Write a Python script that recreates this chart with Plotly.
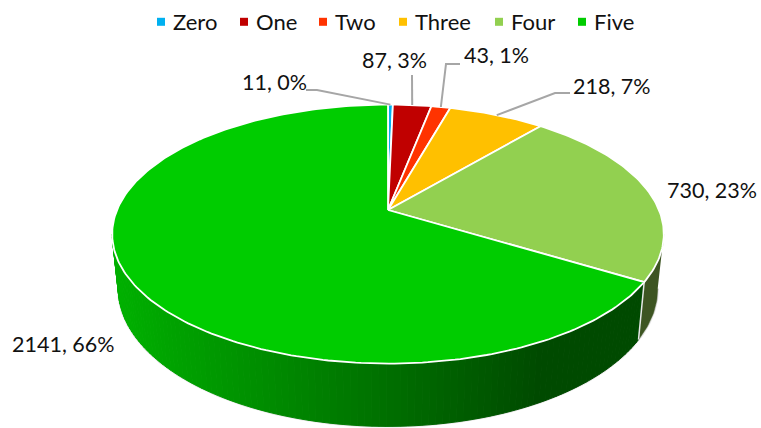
import math
import plotly.graph_objects as go

categories = ["Zero", "One", "Two", "Three", "Four", "Five"]
values = [11, 87, 43, 218, 730, 2141]
percent_labels = ["0%", "3%", "1%", "7%", "23%", "66%"]
colors = ["#00B0F0", "#C00000", "#FF3300", "#FFC000", "#92D050", "#00CC00"]

W, H = 761, 428
CX, AY = 388, 210
A_TOP, B_TOP, P = 271, 125, 0.186
A_LOW, B_LOW, CY_LOW = 265, 133, 263
FONT = "Lato, Carlito, 'Open Sans', sans-serif"

label_pos = [(274, 82), (394, 60), (496, 55), (612, 86), (712, 190), (63, 344)]
leader_elbows = [[(317, 90), (306, 90)], [(412, 75)], [(446, 64), (460, 64)], [(555, 93), (570, 93)], None, None]
legend_left = [148, 231, 310, 390, 486, 569]

total = sum(values)


def top(theta):
    u, v = math.sin(theta), math.cos(theta)
    d = 1 + P * v
    return CX + A_TOP * u / d, AY - B_TOP * v / d


def low(theta):
    u, v = math.sin(theta), math.cos(theta)
    d = 1 + P * v
    return CX + A_LOW * u / d, CY_LOW - B_LOW * v / d


edges = [0]
for val in values:
    edges.append(edges[-1] + val / total * 2 * math.pi)

fig = go.Figure()


def poly(xs, ys, fill, line, width):
    fig.add_trace(go.Scatter(x=xs, y=ys, mode="lines", fill="toself", fillcolor=fill,
                             line=dict(color=line, width=width), hoverinfo="skip", showlegend=False))


def five_wall_color(x):
    t = min(max((x - 118) / (540 - 118), 0), 1)
    return f"rgb(0,{round(176 - 102 * t)},0)"


wall_start = math.radians(100.7)
wall_end = math.radians(259.3)

# outer halo of the base
bx, by = [], []
for i in range(201):
    th = wall_start + (wall_end - wall_start) * i / 200
    x, y = low(th)
    bx.append(x)
    by.append(y)
fig.add_trace(go.Scatter(x=bx, y=by, mode="lines", line=dict(color="#e4e4e4", width=2.5),
                         hoverinfo="skip", showlegend=False))

# wall of "Four"
n = 24
b4 = edges[5]
xs, ys = [], []
for i in range(n + 1):
    x, y = top(wall_start + (b4 - wall_start) * i / n)
    xs.append(x)
    ys.append(y)
for i in range(n, -1, -1):
    x, y = low(wall_start + (b4 - wall_start) * i / n)
    xs.append(x)
    ys.append(y)
poly(xs, ys, "#3D5522", "#3D5522", 0.5)

# wall of "Five", banded gradient
n = 110
for i in range(n):
    t0 = b4 + (wall_end - b4) * i / n
    t1 = b4 + (wall_end - b4) * (i + 1) / n
    pts = [top(t0), top(t1), low(t1), low(t0), top(t0)]
    c = five_wall_color(sum(p[0] for p in pts[:4]) / 4)
    poly([p[0] for p in pts], [p[1] for p in pts], c, c, 1)

# separator between the walls
p0, p1 = top(b4), low(b4)
fig.add_trace(go.Scatter(x=[p0[0], p1[0]], y=[p0[1], p1[1]], mode="lines",
                         line=dict(color="#e8e8e8", width=1.5), hoverinfo="skip", showlegend=False))

# top faces
for i, col in enumerate(colors):
    a0, a1 = edges[i], edges[i + 1]
    m = max(4, int((a1 - a0) * 60))
    xs, ys = [CX], [AY]
    for k in range(m + 1):
        x, y = top(a0 + (a1 - a0) * k / m)
        xs.append(x)
        ys.append(y)
    xs.append(CX)
    ys.append(AY)
    poly(xs, ys, col, "#FFFFFF", 1.8)

# leader lines
for i, elbow in enumerate(leader_elbows):
    if not elbow:
        continue
    a = (edges[i] + edges[i + 1]) / 2
    x0, y0 = top(a)
    fig.add_trace(go.Scatter(x=[x0] + [e[0] for e in elbow], y=[y0] + [e[1] for e in elbow],
                             mode="lines", line=dict(color="#A6A6A6", width=2),
                             hoverinfo="skip", showlegend=False))

# legend entries: one positioned legend per category
legend_layout = {}
for i, (name, col, left) in enumerate(zip(categories, colors, legend_left)):
    key = "legend" if i == 0 else f"legend{i + 1}"
    fig.add_trace(go.Scatter(x=[None], y=[None], mode="markers", name=name, legend=key,
                             showlegend=True, marker=dict(symbol="square", size=8, color=col)))
    legend_layout[key] = dict(x=left / W, xanchor="left", y=1 - 22 / H, yanchor="middle",
                              font=dict(family=FONT, size=22, color="#111111"),
                              itemwidth=30, indentation=-15, bgcolor="rgba(0,0,0,0)")

# data labels
for (x, y), val, pct in zip(label_pos, values, percent_labels):
    fig.add_annotation(x=x, y=y, text=f"{val}, {pct}", showarrow=False, xref="x", yref="y",
                       font=dict(family=FONT, size=21.5, color="#111111"))

fig.update_layout(
    width=W, height=H, autosize=False,
    margin=dict(l=0, r=0, t=0, b=0),
    paper_bgcolor="white", plot_bgcolor="white",
    xaxis=dict(range=[0, W], visible=False, fixedrange=True),
    yaxis=dict(range=[H, 0], visible=False, fixedrange=True),
    **legend_layout,
)
fig.write_html("out.html", config={"displayModeBar": False},
               post_script="document.body.style.margin='0';document.body.style.overflow='hidden';"
                           "document.querySelectorAll('.legendsymbols').forEach(function(g){"
                           "g.setAttribute('transform','translate(8,0)');});")
